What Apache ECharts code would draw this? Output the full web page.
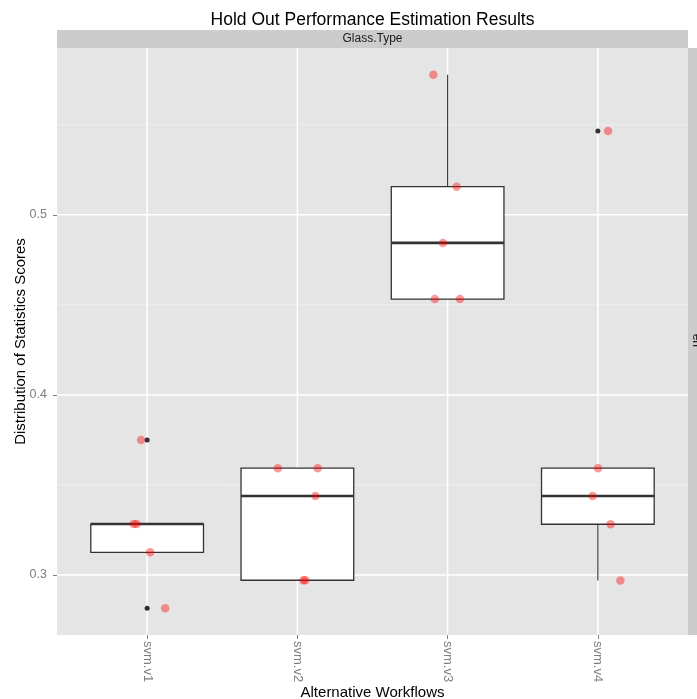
<!DOCTYPE html>
<html>
<head>
<meta charset="utf-8">
<script src="https://cdn.jsdelivr.net/npm/echarts@6/dist/echarts.min.js"></script>
<style>
  html, body { margin: 0; padding: 0; background: #fff; }
  #chart { width: 697px; height: 699px; }
</style>
</head>
<body>
<div id="chart"></div>
<script>
var workflows = ['svm.v1', 'svm.v2', 'svm.v3', 'svm.v4'];

// scores per workflow (5 hold-out repetitions each)
var scoresV1 = [0.3750, 0.3283, 0.3283, 0.3126, 0.2815];
var scoresV2 = [0.3593, 0.3593, 0.3439, 0.2971, 0.2971];
var scoresV3 = [0.5778, 0.5156, 0.4844, 0.4532, 0.4532];
var scoresV4 = [0.5465, 0.3593, 0.3439, 0.3282, 0.2970];

// horizontal jitter of the points, in category units
var jitterV1 = [-0.04, -0.09, -0.07, 0.02, 0.12];
var jitterV2 = [-0.13, 0.135, 0.12, 0.04, 0.053];
var jitterV3 = [-0.095, 0.06, -0.031, -0.085, 0.082];
var jitterV4 = [0.068, 0.001, -0.035, 0.085, 0.15];

var yTicks = [0.3, 0.4, 0.5];
var yMinorTicks = [0.35, 0.45, 0.55];

var scores = [scoresV1, scoresV2, scoresV3, scoresV4];
var jitters = [jitterV1, jitterV2, jitterV3, jitterV4];

var font = "'Liberation Sans', Arial, sans-serif";
var yMin = 0.2667, yMax = 0.5926;

// R type 7 quantile
function quantile(sorted, p) {
  var h = (sorted.length - 1) * p;
  var lo = Math.floor(h);
  var hi = Math.ceil(h);
  return sorted[lo] + (h - lo) * (sorted[hi] - sorted[lo]);
}

var boxData = [];
var outliers = [];
var points = [];
for (var i = 0; i < scores.length; i++) {
  var s = scores[i].slice().sort(function (a, b) { return a - b; });
  var q1 = quantile(s, 0.25), med = quantile(s, 0.5), q3 = quantile(s, 0.75);
  var iqr = q3 - q1;
  var lowFence = q1 - 1.5 * iqr, highFence = q3 + 1.5 * iqr;
  var inside = s.filter(function (v) { return v >= lowFence && v <= highFence; });
  boxData.push([i + 1, inside[0], q1, med, q3, inside[inside.length - 1]]);
  s.forEach(function (v) {
    if (v < lowFence || v > highFence) outliers.push([i + 1, v]);
  });
  for (var j = 0; j < scores[i].length; j++) {
    points.push([i + 1 + jitters[i][j], scores[i][j]]);
  }
}

// grid lines: [orientation (0 = horizontal, 1 = vertical), value, major]
var gridData = [];
yTicks.forEach(function (v) { gridData.push([0, v, 1]); });
yMinorTicks.forEach(function (v) { gridData.push([0, v, 0]); });
workflows.forEach(function (w, k) { gridData.push([1, k + 1, 1]); });

var chart = echarts.init(document.getElementById('chart'), null, { renderer: 'canvas' });

var option = {
  animation: false,
  textStyle: { fontFamily: font },
  grid: {
    left: 57, right: 9, top: 48, bottom: 64,
    outerBoundsMode: 'none',
    containLabel: false,
    show: true, backgroundColor: '#E5E5E5', borderWidth: 0
  },
  xAxis: {
    type: 'value',
    min: 0.4, max: 4.6,
    name: 'Alternative Workflows',
    nameLocation: 'middle',
    nameGap: 50,
    nameMoveOverlap: false,
    nameTextStyle: { color: '#000', fontSize: 15, fontFamily: font },
    axisLine: { show: false },
    splitLine: { show: false },
    axisTick: { customValues: [1, 2, 3, 4], length: 4, lineStyle: { color: '#7F7F7F', width: 1 } },
    axisLabel: {
      customValues: [1, 2, 3, 4],
      formatter: function (v) { return workflows[Math.round(v) - 1]; },
      rotate: -90, margin: 6,
      color: '#7F7F7F', fontSize: 13, fontFamily: font
    }
  },
  yAxis: {
    type: 'value',
    min: yMin, max: yMax,
    name: 'Distribution of Statistics Scores',
    nameLocation: 'middle',
    nameRotate: 90,
    nameGap: 29,
    nameMoveOverlap: false,
    nameTextStyle: { color: '#000', fontSize: 15, fontFamily: font },
    axisLine: { show: false },
    splitLine: { show: false },
    axisTick: { customValues: yTicks, length: 4, lineStyle: { color: '#7F7F7F', width: 1 } },
    axisLabel: {
      customValues: yTicks,
      formatter: function (v) { return v.toFixed(1); },
      margin: 10, color: '#7F7F7F', fontSize: 12.5, fontFamily: font
    }
  },
  graphic: [
    { type: 'rect', shape: { x: 57, y: 30, width: 631, height: 18 }, style: { fill: '#CCCCCC' }, silent: true },
    { type: 'rect', shape: { x: 688, y: 48, width: 20, height: 587 }, style: { fill: '#CCCCCC' }, silent: true },
    { type: 'text', x: 372.5, y: 39, silent: true,
      style: { text: 'Glass.Type', align: 'center', verticalAlign: 'middle', fill: '#1A1A1A', fontSize: 12, fontFamily: font } },
    { type: 'text', x: 696.5, y: 341, rotation: -Math.PI / 2, silent: true,
      style: { text: 'err', align: 'center', verticalAlign: 'middle', fill: '#1A1A1A', fontSize: 12, fontFamily: font } },
    { type: 'text', x: 372.5, y: 20, silent: true,
      style: { text: 'Hold Out Performance Estimation Results', align: 'center', verticalAlign: 'middle', fill: '#000', fontSize: 17.5, fontFamily: font } }
  ],
  series: [
    {
      name: 'grid',
      type: 'custom',
      z: 1,
      silent: true,
      data: gridData,
      encode: { x: 1, y: 1 },
      renderItem: function (params, api) {
        var cs = params.coordSys;
        var orient = api.value(0), v = api.value(1), major = api.value(2) === 1;
        var style = { stroke: major ? '#FFFFFF' : '#F2F2F2', lineWidth: major ? 1.5 : 0.8 };
        if (orient === 0) {
          var p = api.coord([1, v]);
          return { type: 'line', shape: { x1: cs.x, y1: p[1], x2: cs.x + cs.width, y2: p[1] }, style: style };
        }
        var q = api.coord([v, yMin]);
        return { type: 'line', shape: { x1: q[0], y1: cs.y, x2: q[0], y2: cs.y + cs.height }, style: style };
      }
    },
    {
      name: 'box',
      type: 'custom',
      z: 2,
      data: boxData,
      encode: { x: 0, y: [1, 2, 3, 4, 5] },
      renderItem: function (params, api) {
        var x = api.value(0);
        var lo = api.coord([x, api.value(1)]);
        var q1 = api.coord([x, api.value(2)]);
        var med = api.coord([x, api.value(3)]);
        var q3 = api.coord([x, api.value(4)]);
        var hi = api.coord([x, api.value(5)]);
        var half = api.size([0.375, 0])[0];
        var line = { stroke: '#333333', lineWidth: 1.1 };
        return {
          type: 'group',
          children: [
            { type: 'line', shape: { x1: lo[0], y1: lo[1], x2: q1[0], y2: q1[1] }, style: line },
            { type: 'line', shape: { x1: q3[0], y1: q3[1], x2: hi[0], y2: hi[1] }, style: line },
            { type: 'rect', shape: { x: q3[0] - half, y: q3[1], width: half * 2, height: q1[1] - q3[1] },
              style: { fill: '#FFFFFF', stroke: '#333333', lineWidth: 1.3 } },
            { type: 'line', shape: { x1: med[0] - half, y1: med[1], x2: med[0] + half, y2: med[1] },
              style: { stroke: '#333333', lineWidth: 2.6 } }
          ]
        };
      }
    },
    {
      name: 'outliers',
      type: 'scatter',
      z: 3,
      data: outliers,
      symbol: 'circle',
      symbolSize: 5,
      itemStyle: { color: '#000000' }
    },
    {
      name: 'scores',
      type: 'scatter',
      z: 4,
      data: points,
      symbol: 'circle',
      symbolSize: 8.5,
      itemStyle: { color: 'rgba(255,0,0,0.5)' }
    }
  ]
};

chart.setOption(option);
</script>
</body>
</html>
